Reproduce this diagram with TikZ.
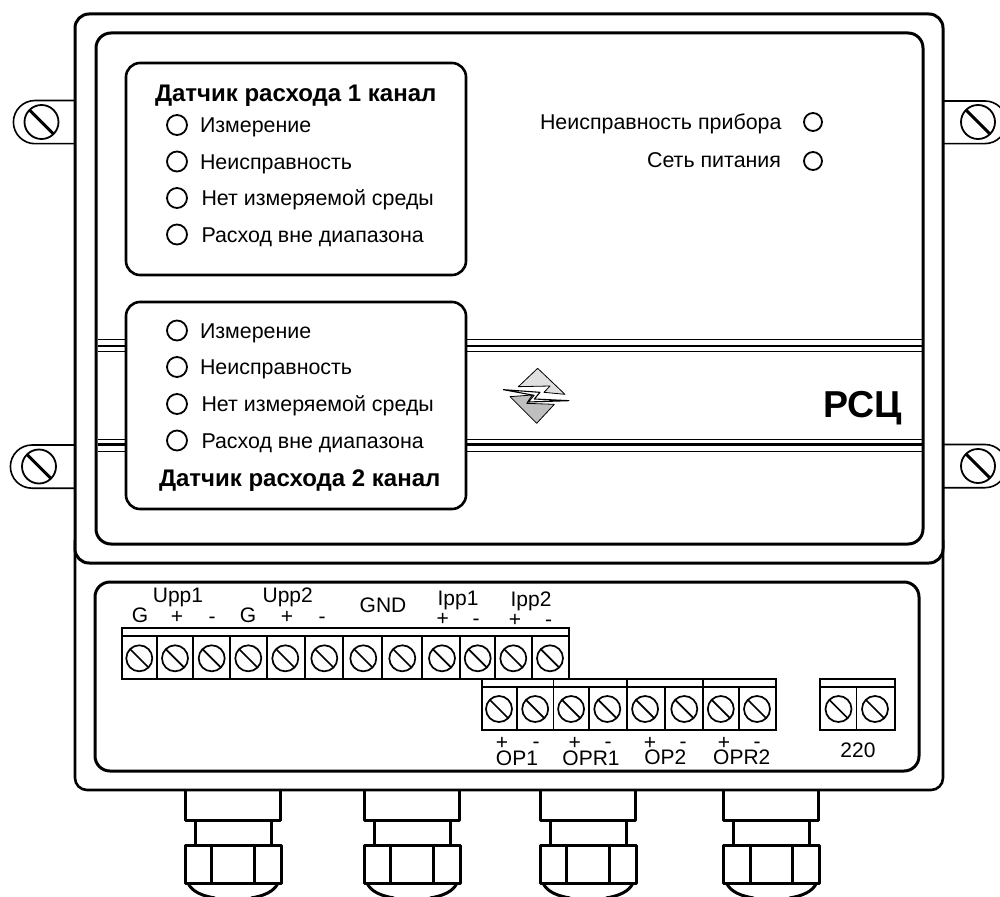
\documentclass[tikz,border=0pt]{standalone}
\usepackage{fontspec}
\setmainfont{Liberation Sans}
\newcommand{\fsz}[1]{\fontsize{#1}{#1}\selectfont}
\tikzset{
  x=1pt,y=-1pt,
  txt/.style={inner sep=0pt,outer sep=0pt,font=\fsz{21}},
  ttl/.style={inner sep=0pt,outer sep=0pt,font=\fsz{24}\bfseries,anchor=base west},
  item/.style={inner sep=0pt,outer sep=0pt,font=\fsz{21.4},anchor=base west},
  lab/.style={txt,anchor=base},
  led/.style={circle,draw,line width=1.8pt,minimum size=20pt,inner sep=0pt,outer sep=0pt},
  scrw/.style={circle,draw,line width=1.7pt,minimum size=26pt,inner sep=0pt,outer sep=0pt},
  lugscrw/.style={circle,draw,line width=1.8pt,minimum size=34pt,inner sep=0pt,outer sep=0pt},
  heavy/.style={line width=3pt},
  panelline/.style={line width=2.6pt},
  term/.style={line width=1.8pt,line cap=rect},
  lugline/.style={line width=1.6pt},
  gl/.style={line width=3pt,line join=round},
  stripe/.style={line width=1.4pt},
  stripeb/.style={line width=2.4pt},
}
\newcommand{\slashed}[1]{\draw[line width=1.7pt] (#1.135) -- (#1.-45);}
\newcommand{\lugslashed}[1]{\draw[line width=3pt] (#1.135) -- (#1.-45);}
\begin{document}
\begin{tikzpicture}
\useasboundingbox (0,0) rectangle (1000,896);
\clip (0,0) rectangle (1000,896);
% lugs
\draw[lugline] (77,100.5) -- (35,100.5) arc (90:270:21.6pt) -- (77,143.7);
\draw[lugline] (77,445) -- (32,445) arc (90:270:21.6pt) -- (77,488.2);
\draw[lugline] (941,101) -- (985,101) arc (90:-90:21.3pt) -- (941,143.6);
\draw[lugline] (941,444.5) -- (985,444.5) arc (90:-90:21.6pt) -- (941,487.7);
\node[lugscrw] (l1) at (41.5,122) {}; \lugslashed{l1}
\node[lugscrw] (l2) at (39,466.5) {}; \lugslashed{l2}
\node[lugscrw] (r1) at (978,122) {}; \lugslashed{r1}
\node[lugscrw] (r2) at (978,466) {}; \lugslashed{r2}
% case
\draw[line width=2.6pt,rounded corners=12pt] (75,540) -- (75,790) -- (943,790) -- (943,540);
\draw[heavy,rounded corners=14pt,fill=white] (75,14) rectangle (943,563);
\draw[heavy,rounded corners=15pt] (96,33) rectangle (923,544);
% stripes
\foreach \a/\b in {97.5/126,466/921.5}{
  \draw[stripe] (\a,339.3) -- (\b,339.3);
  \draw[stripeb] (\a,346) -- (\b,346);
  \draw[stripe] (\a,351.3) -- (\b,351.3);
  \draw[stripe] (\a,439.5) -- (\b,439.5);
  \draw[stripeb] (\a,444.5) -- (\b,444.5);
  \draw[stripe] (\a,451.5) -- (\b,451.5);
}
% display boxes
\draw[panelline,rounded corners=14pt] (126,63) rectangle (466,275);
\draw[panelline,rounded corners=14pt] (126,302) rectangle (466,509);
\node[ttl] (t1) at (155,101.5) {Датчик расхода 1 канал};
\foreach \n/\y/\x/\s in {a/125/200/Измерение,b/161.5/200/Неисправность,c/198/201.5/Нет измеряемой среды,d/234.5/201.5/Расход вне диапазона}{
  \node[led] (led1\n) at (177,\y) {};
  \node[item] (txt1\n) at (\x,\y+7.6) {\s};
}
\foreach \n/\y/\x/\s in {a/330.5/200/Измерение,b/367/200/Неисправность,c/404/201.5/Нет измеряемой среды,d/440.5/201.5/Расход вне диапазона}{
  \node[led] (led2\n) at (177,\y) {};
  \node[item] (txt2\n) at (\x,\y+7.6) {\s};
}
\node[ttl] (t2) at (159,486.5) {Датчик расхода 2 канал};
\node[item] (dev) at (540,129.5) {Неисправность прибора};
\node[item,anchor=base east] (net) at (781,167.5) {Сеть питания};
\node[led,minimum size=18pt] (ledd) at (813,122) {};
\node[led,minimum size=18pt] (ledn) at (813,161) {};
% logo
\begin{scope}[shift={(495,360)},x=.3333pt,y=-.3333pt]
  \draw[line width=.8pt,fill=black!12,line join=round] (128,25) -- (210,103) -- (147,97) -- (165,78) -- (70,80) -- cycle;
  \draw[line width=.8pt,fill=black!25,line join=round] (45,110) -- (125,190) -- (178,133) -- (95,130) -- (112,105) -- cycle;
  \draw[line width=1.1pt,fill=white,line join=round] (25,89) -- (135,97) -- (118,117) -- (222,122) -- (100,126) -- (117,106) -- cycle;
\end{scope}
\node[inner sep=0pt,outer sep=0pt,font=\fsz{37.5}\bfseries,anchor=base west] (rsc) at (823,417) {РСЦ};
% terminal panel
\draw[heavy,rounded corners=15pt] (95,582) rectangle (919,771);
% block 1
\draw[term] (122,628) rectangle (569,679);
\draw[term] (122,636) -- (569,636);
\foreach \x in {156.7,193.3,230,266.7,305,342.7,382.3,422,460.3,495.3,532}{
  \draw[term] (\x,636) -- (\x,679);
}
\foreach \n/\x in {1/139.3,2/175,3/211.7,4/248.3,5/285.3,6/324.3,7/363.3,8/402.3,9/442,10/477.7,11/513.3,12/550}{
  \node[scrw] (sa\n) at (\x,658.3) {}; \slashed{sa\n}
}
% block 2
\draw[term] (481.7,679) rectangle (776.3,730);
\draw[term] (481.7,687) -- (776.3,687);
\foreach \x in {516.7,553.5,589,626.9,665,703.3,738.8}{
  \draw[term] (\x,687) -- (\x,730);
}
\foreach \x in {553.5,626.9,703.3}{
  \draw[term] (\x,679) -- (\x,687);
}
\foreach \n/\x in {1/499,2/535.2,3/571.1,4/607.3,5/645.1,6/684.3,7/720.8,8/757}{
  \node[scrw] (sb\n) at (\x,709) {}; \slashed{sb\n}
}
% block 3
\draw[term] (820.2,679) rectangle (895.3,730);
\draw[term] (820.2,687) -- (895.3,687);
\draw[term] (856.4,687) -- (856.4,730);
\node[scrw] (sc1) at (838.5,709) {}; \slashed{sc1}
\node[scrw] (sc2) at (875,709) {}; \slashed{sc2}
% labels
\node[lab] (u1) at (178,602) {Upp1};
\node[lab] (u2) at (287.7,602) {Upp2};
\node[lab] (gnd) at (383,612.7) {GND};
\node[lab] (i1) at (458,605) {Ipp1};
\node[lab] (i2) at (531,606) {Ipp2};
\node[lab] (g1) at (140,622.7) {G};
\node[lab] (g2) at (248,622.7) {G};
\foreach \n/\x/\y/\s in {p1/177/623.5/+,m1/212/623/-,p2/287/623.5/+,m2/322/623/-,p3/442.7/625.5/+,m3/476/625/-,p4/515/626/+,m4/548.7/626/-,
  p5/502/749/+,m5/536/748/-,p6/574.8/749/+,m6/608/748/-,p7/650/749/+,m7/683/748/-,p8/724/749/+,m8/757/748/-}{
  \node[lab] (\n) at (\x,\y) {\s};
}
\node[lab] (op1) at (517,765.7) {OP1};
\node[lab] (opr1) at (591,765.7) {OPR1};
\node[lab] (op2) at (665.4,764) {OP2};
\node[lab] (opr2) at (741.8,764) {OPR2};
\node[lab] (v220) at (858,757.3) {220};
% cable glands
\foreach \g in {185,364,540,723.5}{
  \begin{scope}[shift={(\g,0)}]
    \draw[gl] (0,791) -- (0,820) -- (95,820) -- (95,791);
    \draw[gl] (10,820) -- (10,845);
    \draw[gl] (86,820) -- (86,845);
    \draw[gl] (0,883) -- (0,845) -- (96,845) -- (96,883) -- cycle;
    \draw[gl] (26.7,845) -- (26.7,883);
    \draw[gl] (69.3,845) -- (69.3,883);
    \draw[gl] (3,883) .. controls (7,892) and (18,896) .. (30,898);
    \draw[gl] (93,883) .. controls (89,892) and (78,896) .. (66,898);
  \end{scope}
}
\end{tikzpicture}
\end{document}
